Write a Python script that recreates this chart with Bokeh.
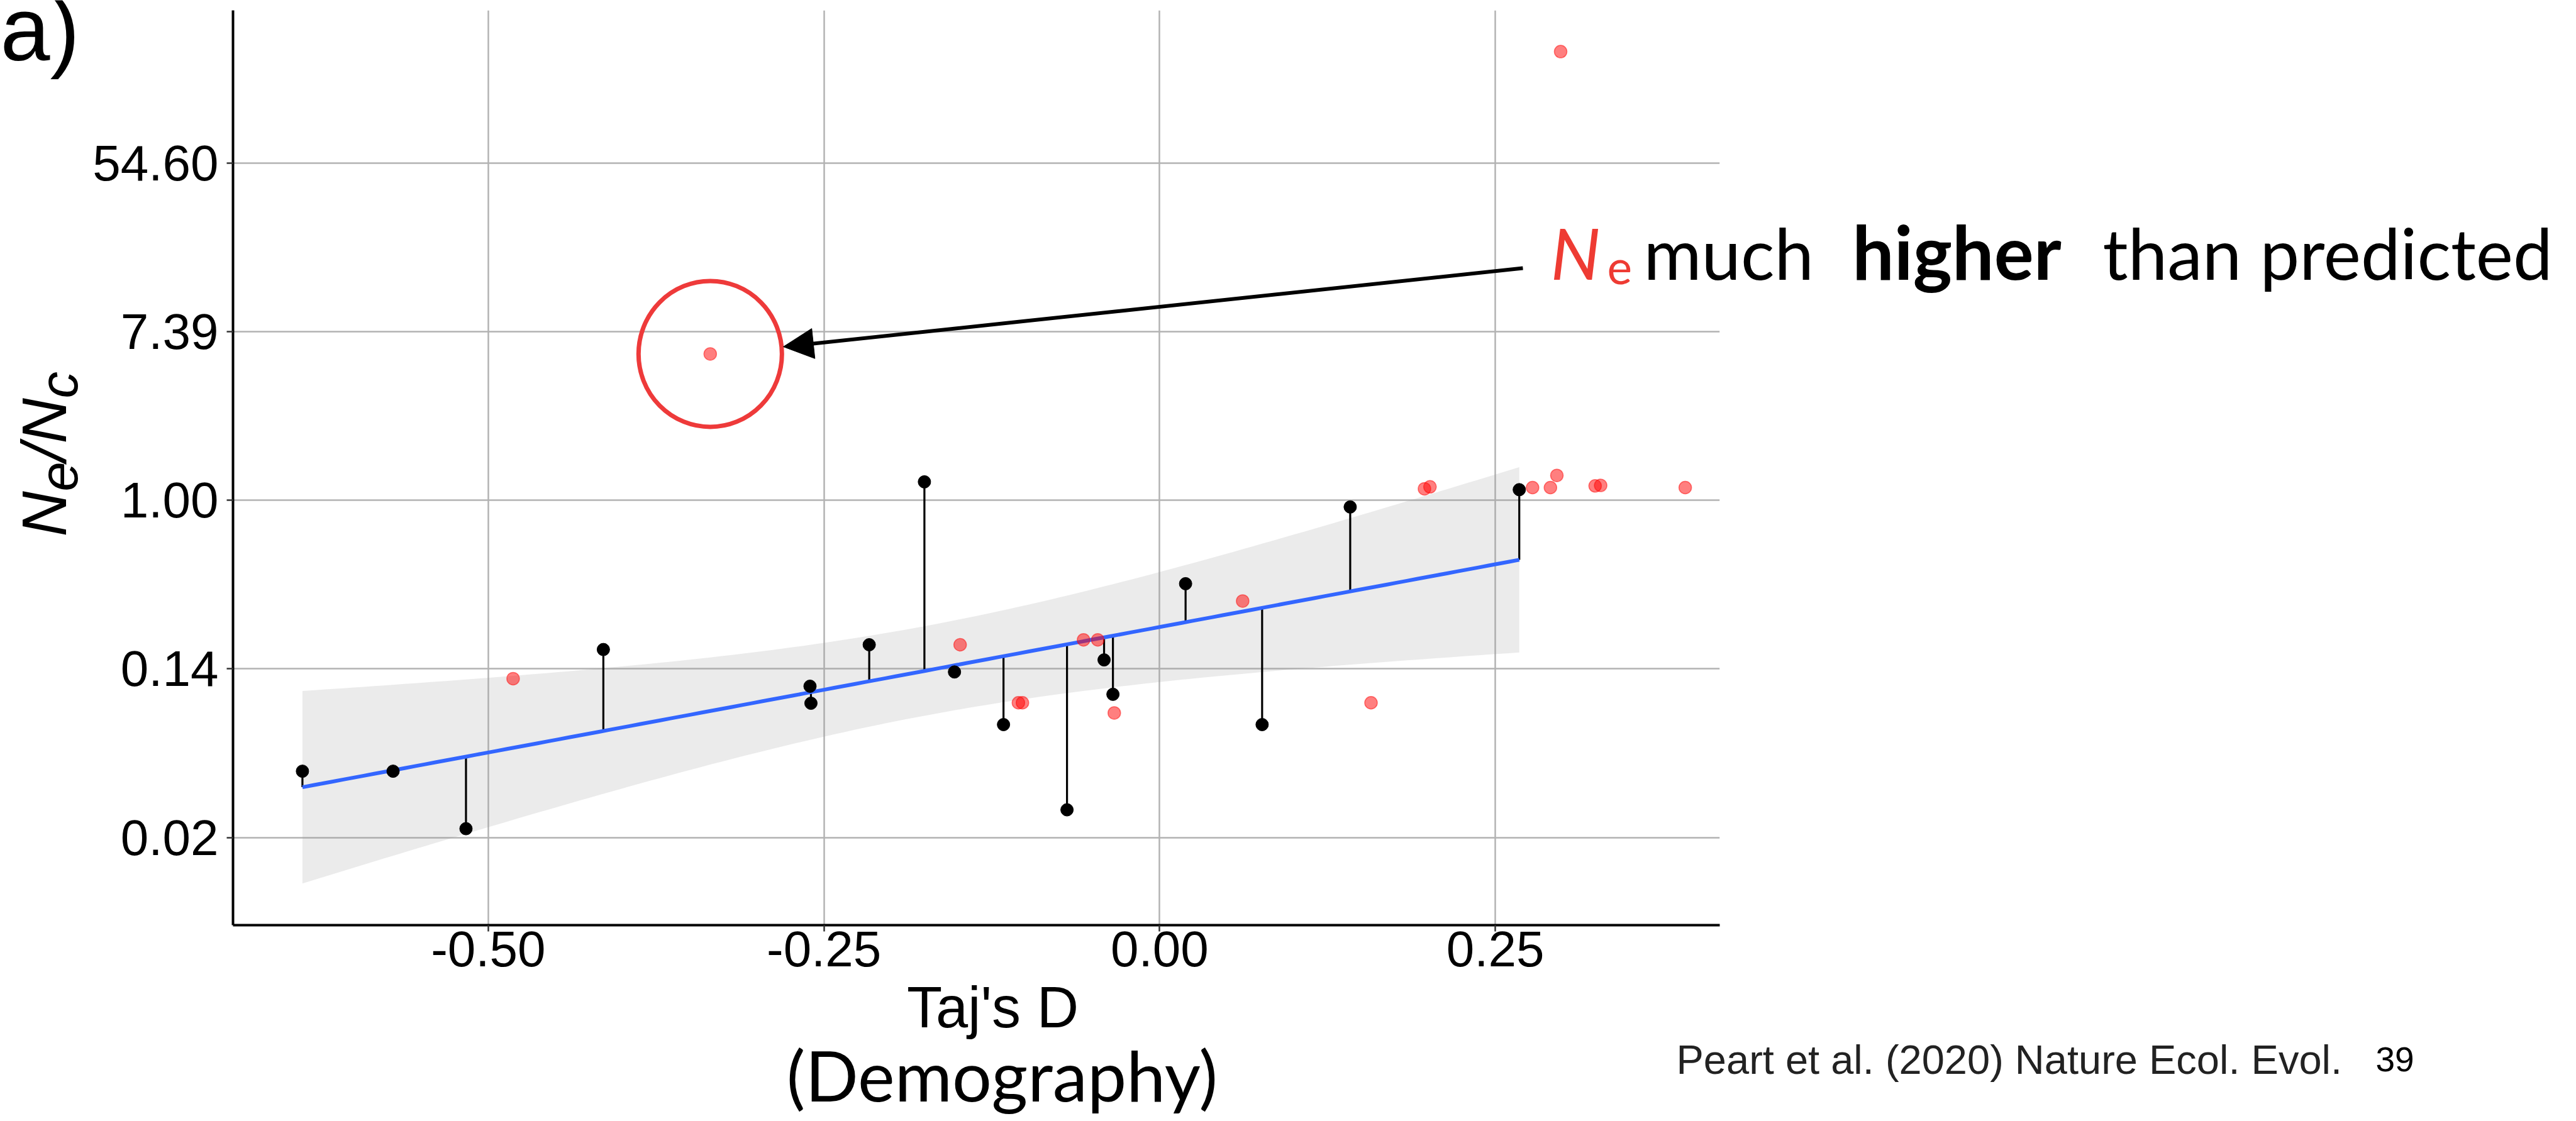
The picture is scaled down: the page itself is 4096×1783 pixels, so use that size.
import math

import numpy as np
from bokeh.embed import file_html
from bokeh.models import Arrow, FixedTicker, GridBox, Label, NormalHead, PrintfTickFormatter, Range1d
from bokeh.plotting import figure
from bokeh.resources import INLINE

# Populations used in the regression (black): Tajima's D and ln(Ne/Nc)
fit_tajd = [-0.6384, -0.5709, -0.5166, -0.4143, -0.2604, -0.2597, -0.2163, -0.1752, -0.1528,
            -0.1163, -0.0690, -0.0414, -0.0348, 0.0193, 0.0763, 0.1419, 0.2678]
fit_log_ratio = [-3.214, -3.214, -3.896, -1.771, -2.206, -2.408, -1.714, 0.218, -2.037,
                 -2.661, -3.672, -1.894, -2.302, -0.990, -2.661, -0.080, 0.125]

# Populations left out of the regression (red)
other_tajd = [-0.4815, -0.1486, -0.1052, -0.1022, -0.0567, -0.0461, -0.0338, 0.0618, 0.1574,
              0.1972, 0.2013, 0.2777, 0.2910, 0.2958, 0.3243, 0.3284, 0.3914, 0.2986, -0.3347]
other_log_ratio = [-2.116, -1.714, -2.402, -2.402, -1.656, -1.656, -2.523, -1.195, -2.402,
                   0.136, 0.159, 0.150, 0.150, 0.294, 0.170, 0.176, 0.150, 5.321, 1.735]
highlight_index = 18  # the population whose Ne is far above the prediction

x_ticks = [-0.50, -0.25, 0.00, 0.25]
y_ticks = [-4, -2, 0, 2, 4]  # ln scale; labelled with exp(tick)

# Student t, 97.5% quantile, n - 2 = 15 degrees of freedom
T_CRIT = 2.1314

# ---- linear fit with 95% confidence band ----
x = np.array(fit_tajd)
y = np.array(fit_log_ratio)
slope, intercept = np.polyfit(x, y, 1)
n = len(x)
x_bar = x.mean()
resid = y - (intercept + slope * x)
s = math.sqrt(float(np.sum(resid ** 2)) / (n - 2))
sxx = float(np.sum((x - x_bar) ** 2))
xs = np.linspace(x.min(), x.max(), 120)
fit_line = intercept + slope * xs
half = T_CRIT * s * np.sqrt(1.0 / n + (xs - x_bar) ** 2 / sxx)
fitted_at_points = intercept + slope * x

# ---- canvas / frame geometry (pixels) ----
W, H = 4096, 1783
FRAME_L, FRAME_R, FRAME_T, FRAME_B = 370, 2734, 16, 1471
X_MIN, X_MAX = -0.6901, 0.4171
Y_MIN, Y_MAX = -5.040, 5.810


def sx(px):
    return X_MIN + (px - FRAME_L) / (FRAME_R - FRAME_L) * (X_MAX - X_MIN)


def sy(py):
    return Y_MAX - (py - FRAME_T) / (FRAME_B - FRAME_T) * (Y_MAX - Y_MIN)


p = figure(width=W, height=H, x_range=Range1d(X_MIN, X_MAX), y_range=Range1d(Y_MIN, Y_MAX),
           output_backend="svg", toolbar_location=None, frame_align=False,
           min_border_left=FRAME_L, min_border_right=W - FRAME_R,
           min_border_top=FRAME_T, min_border_bottom=H - FRAME_B)
p.outline_line_color = None
p.background_fill_color = "white"
p.border_fill_color = "white"

# axes
p.xaxis.ticker = FixedTicker(ticks=x_ticks)
p.xaxis.formatter = PrintfTickFormatter(format="%.2f")
p.yaxis.ticker = FixedTicker(ticks=y_ticks)
p.yaxis.major_label_overrides = {t: f"{math.exp(t):.2f}" for t in y_ticks}
for ax in (p.xaxis, p.yaxis):
    ax.axis_line_color = "black"
    ax.axis_line_width = 4
    ax.major_tick_line_color = "#333333"
    ax.major_tick_line_width = 2.5
    ax.major_tick_out = 10
    ax.major_tick_in = 0
    ax.minor_tick_line_color = None
    ax.major_label_text_font = "Liberation Sans"
    ax.major_label_text_font_size = "80px"
    ax.major_label_text_color = "black"
p.xaxis.major_label_standoff = 0
p.yaxis.major_label_standoff = 13

p.xgrid.ticker = FixedTicker(ticks=x_ticks)
p.ygrid.ticker = FixedTicker(ticks=y_ticks)
for g in (p.xgrid, p.ygrid):
    g.grid_line_color = "#B3B3B3"
    g.grid_line_width = 2.5

# confidence band, residual stems, fitted line, points
p.varea(x=xs, y1=fit_line - half, y2=fit_line + half, fill_color="#999999", fill_alpha=0.2)
p.segment(x0=fit_tajd, y0=fit_log_ratio, x1=fit_tajd, y1=fitted_at_points,
          line_color="black", line_width=3.2)
p.line(xs, fit_line, line_color="#3366FF", line_width=6)
p.scatter(fit_tajd, fit_log_ratio, size=20, fill_color="black", line_color="black")
p.scatter(other_tajd, other_log_ratio, size=20, fill_color="red", fill_alpha=0.5,
          line_color="red", line_alpha=0.5, line_width=1.5)

# circle around the highlighted population and the pointing arrow
hx, hy = other_tajd[highlight_index], other_log_ratio[highlight_index]
p.ellipse(x=[hx], y=[hy], width=228, height=232, width_units="screen", height_units="screen",
          fill_color=None, line_color="#EE3A3A", line_width=7)
p.add_layout(Arrow(x_start=sx(2421), y_start=sy(426), x_end=sx(1245), y_end=sy(551),
                   line_color="black", line_width=6,
                   end=NormalHead(size=48, fill_color="black", line_color="black", line_width=1)))

# ---- transparent text layer over the whole page, in pixel coordinates ----
t = figure(width=W, height=H, x_range=Range1d(0, W), y_range=Range1d(H, 0),
           output_backend="svg", toolbar_location=None, min_border=0, frame_align=False,
           x_axis_location=None, y_axis_location=None)
t.grid.visible = False
t.outline_line_color = None
t.background_fill_color = None
t.border_fill_color = None

# the label box puts the glyph baseline this far (in em) below the anchor
BASELINE_DROP = {"Liberation Sans": 0.35, "Lato": 0.39}


def add_text(px, py, text, size, font="Liberation Sans", style="normal", color="black",
             align="left", angle=0.0):
    """Place text so that its baseline starts at page pixel (px, py)."""
    drop = BASELINE_DROP[font] * size
    if angle:
        px -= drop
    else:
        py -= drop
    t.add_layout(Label(x=px, y=py, text=text, text_font=font,
                       text_font_size=f"{size}px", text_font_style=style, text_color=color,
                       text_align=align, text_baseline="alphabetic", angle=angle))


# panel tag
add_text(0, 96, "a)", 142)

# y-axis title: N_e / N_c (rotated)
rot = math.pi / 2
add_text(104, 853, "N", 100, style="italic", angle=rot)
add_text(123, 781, "e", 85, style="italic", angle=rot)
add_text(104, 733, "/", 100, style="italic", angle=rot)
add_text(104, 705, "N", 100, style="italic", angle=rot)
add_text(123, 633, "c", 85, style="italic", angle=rot)

# x-axis titles
add_text(1578, 1634, "Taj's D", 92, align="center")
add_text(1593, 1752, "(Demography)", 111, font="Lato", align="center")

# callout
RED = "#EE3B33"
add_text(2465, 445, "N", 112, font="Lato", style="italic", color=RED)
add_text(2555, 454, "e", 75, font="Lato", color=RED)
add_text(2613, 445, "much", 112, font="Lato")
add_text(3111, 445, "higher", 118, font="Lato", style="bold", align="center")
add_text(3343, 445, "than", 112, font="Lato")
add_text(3593, 445, "predicted", 112, font="Lato")

# citation and slide number
add_text(2665, 1708, "Peart et al. (2020) Nature Ecol. Evol.", 65, color="#222222")
add_text(3777, 1704, "39", 55)

page = GridBox(children=[(p, 0, 0), (t, 0, 0)], spacing=0)
open("out.html", "w").write(file_html(page, INLINE))
